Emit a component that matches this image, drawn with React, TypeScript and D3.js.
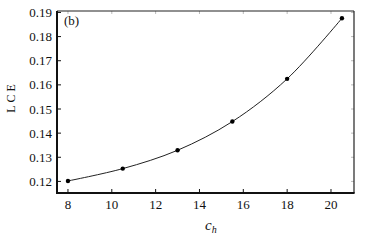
import React from "react";
import { scaleLinear, line, curveCatmullRom } from "d3";

const WIDTH = 371;
const HEIGHT = 240;
const MARGIN = { top: 11, right: 17, bottom: 47, left: 57 };

const chValues = [8, 10.5, 13, 15.5, 18, 20.5];
const lceValues = [0.1202, 0.1253, 0.1329, 0.1448, 0.1625, 0.1876];
const xTicks = [8, 10, 12, 14, 16, 18, 20];
const yTicks = [0.12, 0.13, 0.14, 0.15, 0.16, 0.17, 0.18, 0.19];

const FONT = "'Liberation Serif', 'DejaVu Serif', serif";

export default function App() {
  const innerWidth = WIDTH - MARGIN.left - MARGIN.right;
  const innerHeight = HEIGHT - MARGIN.top - MARGIN.bottom;

  const x = scaleLinear().domain([7.5, 21.05]).range([0, innerWidth]);
  const y = scaleLinear().domain([0.1152, 0.1906]).range([innerHeight, 0]);

  const pts = chValues.map((c, i) => [c, lceValues[i]] as [number, number]);
  const path = line<[number, number]>()
    .x((d) => x(d[0]))
    .y((d) => y(d[1]))
    .curve(curveCatmullRom)(pts);

  return (
    <svg
      width={WIDTH}
      height={HEIGHT}
      style={{ position: "absolute", left: 0, top: 0, background: "#fff", fontFamily: FONT }}
    >
      <g transform={`translate(${MARGIN.left},${MARGIN.top})`}>
        {/* faint mirrored ticks */}
        {xTicks.map((t) => (
          <line key={"tx" + t} x1={x(t)} x2={x(t)} y1={0} y2={3} stroke="#bbb" />
        ))}
        {yTicks.map((t) => (
          <line key={"ty" + t} x1={innerWidth - 3} x2={innerWidth} y1={y(t)} y2={y(t)} stroke="#bbb" />
        ))}

        {/* frame */}
        <line x1={0} x2={innerWidth} y1={0} y2={0} stroke="#222" strokeWidth={1.2} />
        <line x1={innerWidth} x2={innerWidth} y1={0} y2={innerHeight} stroke="#222" strokeWidth={1.2} />
        <line x1={0} x2={0} y1={0} y2={innerHeight + 1} stroke="#111" strokeWidth={2} />
        <line x1={-1} x2={innerWidth + 0.6} y1={innerHeight} y2={innerHeight} stroke="#111" strokeWidth={2} />

        {xTicks.map((t) => (
          <g key={"x" + t}>
            <line x1={x(t)} x2={x(t)} y1={innerHeight} y2={innerHeight - 4} stroke="#111" />
            <text x={x(t)} y={innerHeight + 16} textAnchor="middle" fontSize={13} fill="#111">
              {t}
            </text>
          </g>
        ))}

        {yTicks.map((t) => (
          <g key={"y" + t}>
            <line x1={0} x2={4} y1={y(t)} y2={y(t)} stroke="#111" />
            <text x={-5} y={y(t)} dy="0.35em" textAnchor="end" fontSize={13} fill="#111">
              {t.toFixed(2)}
            </text>
          </g>
        ))}

        <path d={path ?? ""} fill="none" stroke="#222" strokeWidth={1} />
        {pts.map((d, i) => (
          <circle key={i} cx={x(d[0])} cy={y(d[1])} r={2.2} fill="#000" />
        ))}

        <text x={7} y={14} fontSize={13} fill="#111">
          (b)
        </text>
      </g>

      <text
        transform={`translate(15,97) rotate(-90)`}
        textAnchor="middle"
        fontSize={12}
        letterSpacing={3}
        fill="#111"
      >
        LCE
      </text>

      <text x={205} y={230} fontSize={15} fontStyle="italic" fill="#111">
        <tspan>c</tspan>
        <tspan fontSize={10} dy={3}>
          h
        </tspan>
      </text>
    </svg>
  );
}
